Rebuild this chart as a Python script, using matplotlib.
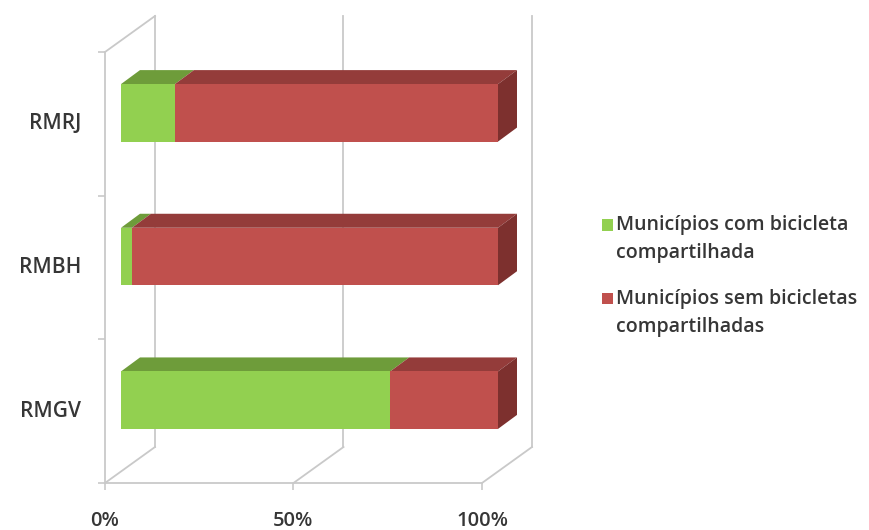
import matplotlib

matplotlib.use("Agg")
import matplotlib.pyplot as plt
from matplotlib.patches import Polygon, Patch, Rectangle
from matplotlib.legend_handler import HandlerPatch
from matplotlib.ticker import PercentFormatter

# share of municipalities per metro region (bottom to top)
regions = ["RMGV", "RMBH", "RMRJ"]
with_bikes = [71.4, 2.9, 14.3]
without_bikes = [28.6, 97.1, 85.7]
series_labels = [
    "Municípios com bicicleta\ncompartilhada",
    "Municípios sem bicicletas\ncompartilhadas",
]

GREEN = ("#92D050", "#6E9C3A", "#5E8A30")
RED = ("#C0504D", "#943C3A", "#7D302E")
GRID = "#c9c9c9"
TEXT = "#363636"
FONT = "Open Sans"

plt.rcParams["font.family"] = [FONT, "DejaVu Sans"]
plt.rcParams["font.weight"] = "semibold"

fig = plt.figure(figsize=(8.7, 5.3), dpi=100)
# front plane of the pseudo-3D box
ax = fig.add_axes([105 / 870, 47 / 530, 377 / 870, 431 / 530])
ax.set_xlim(0, 100)
ax.set_ylim(-0.5, 2.5)


def px_to_data(dx, dy):
    """Convert a pixel displacement (y up) into data units."""
    sx = 100 / (ax.get_position().width * fig.bbox.width)
    sy = 3 / (ax.get_position().height * fig.bbox.height)
    return dx * sx, dy * sy


# depth of the box and of the bars, in pixels
full_dx, full_dy = px_to_data(50, 36)
front_dx, front_dy = px_to_data(16, 11)
bar_dx, bar_dy = px_to_data(19, 14)
half_h = 0.2

# back wall gridlines and floor diagonals
for x in (0, 50, 100):
    ax.plot([x + full_dx] * 2, [-0.5 + full_dy, 2.5 + full_dy], color=GRID,
            lw=1.3, clip_on=False, zorder=1)
    ax.plot([x, x + full_dx], [-0.5, -0.5 + full_dy], color=GRID, lw=1.3,
            clip_on=False, zorder=1)
ax.plot([0, full_dx], [2.5, 2.5 + full_dy], color=GRID, lw=1.3,
        clip_on=False, zorder=1)


def draw_block(left, width, y, colors, right_side):
    front, top, side = colors
    x0 = left + front_dx
    x1 = left + width + front_dx
    yb = y - half_h + front_dy
    yt = y + half_h + front_dy
    ax.add_patch(Polygon([(x0, yb), (x1, yb), (x1, yt), (x0, yt)],
                         closed=True, facecolor=front, edgecolor="none",
                         clip_on=False, zorder=3))
    ax.add_patch(Polygon([(x0, yt), (x1, yt), (x1 + bar_dx, yt + bar_dy),
                          (x0 + bar_dx, yt + bar_dy)],
                         closed=True, facecolor=top, edgecolor="none",
                         clip_on=False, zorder=2))
    if right_side:
        ax.add_patch(Polygon([(x1, yb), (x1, yt), (x1 + bar_dx, yt + bar_dy),
                              (x1 + bar_dx, yb + bar_dy)],
                             closed=True, facecolor=side, edgecolor="none",
                             clip_on=False, zorder=2))


for i, (g, r) in enumerate(zip(with_bikes, without_bikes)):
    draw_block(0, g, i, GREEN, False)
    draw_block(g, r, i, RED, True)

# axes styling
for s in ("top", "right"):
    ax.spines[s].set_visible(False)
for s in ("left", "bottom"):
    ax.spines[s].set_color(GRID)
    ax.spines[s].set_linewidth(1.3)
ax.set_facecolor("none")

ax.set_xticks([0, 50, 100])
ax.xaxis.set_major_formatter(PercentFormatter(decimals=0))
ax.tick_params(axis="x", length=5, width=1.2, color=GRID, pad=15,
               labelsize=14.5, labelcolor=TEXT)

ax.set_yticks(range(len(regions)), regions)
ax.set_yticks([-0.5, 0.5, 1.5, 2.5], minor=True)
ax.tick_params(axis="y", which="major", length=0, pad=17, labelsize=15,
               labelcolor=TEXT)
ax.tick_params(axis="y", which="minor", length=5, width=1.2, color=GRID)
for lbl in ax.get_yticklabels():
    lbl.set_va("center")


class TopSquare(HandlerPatch):
    """Square legend key lined up with the first line of a two-line label."""

    def create_artists(self, legend, orig_handle, xdescent, ydescent,
                       width, height, fontsize, trans):
        side = 0.6 * fontsize
        lift = 0.78 * fontsize
        y0 = -ydescent + (height - side) / 2 + lift
        sq = Rectangle((-xdescent, y0), side, side,
                       facecolor=orig_handle.get_facecolor(),
                       edgecolor="none", transform=trans)
        return [sq]


handles = [Patch(facecolor=GREEN[0]), Patch(facecolor=RED[0])]
leg = fig.legend(handles, series_labels, loc="upper left",
                 bbox_to_anchor=(584 / 870, 1 - 198 / 530), frameon=False,
                 fontsize=14, handlelength=0.6, handleheight=0.6,
                 handletextpad=0.15, labelspacing=1.35, labelcolor=TEXT,
                 handler_map={Patch: TopSquare()})
for t in leg.get_texts():
    t.set_linespacing(1.5)

fig.savefig("out.png", dpi=100, facecolor="white")
